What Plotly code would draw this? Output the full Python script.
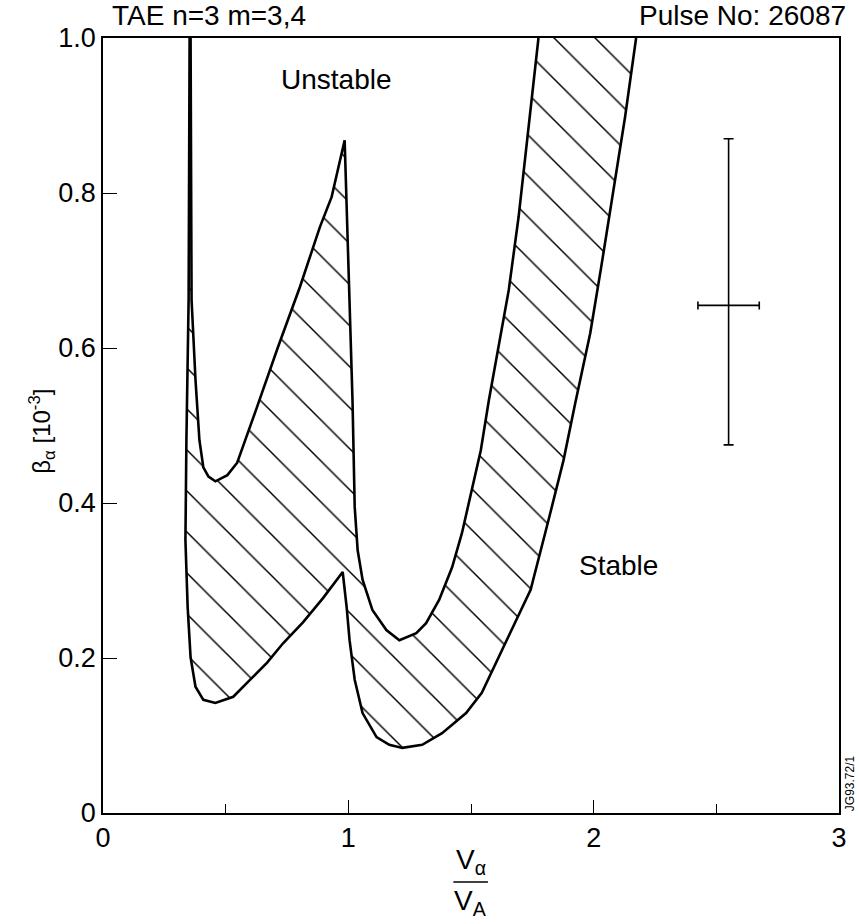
import plotly.graph_objects as go

# ---- data ----
upper_x = [0.357, 0.361, 0.377, 0.393, 0.409, 0.430, 0.458, 0.507, 0.547, 0.580, 0.628, 0.713,
           0.803, 0.884, 0.932, 0.985, 0.993, 1.005, 1.017, 1.026, 1.038, 1.058, 1.098, 1.155,
           1.208, 1.277, 1.317, 1.370, 1.423, 1.463, 1.504, 1.540, 1.573, 1.621, 1.654, 1.694,
           1.727, 1.775]
upper_y = [1.000, 0.662, 0.559, 0.481, 0.446, 0.434, 0.428, 0.436, 0.452, 0.481, 0.524, 0.601,
           0.679, 0.756, 0.795, 0.868, 0.791, 0.662, 0.533, 0.395, 0.339, 0.301, 0.262, 0.236,
           0.223, 0.232, 0.245, 0.275, 0.317, 0.361, 0.417, 0.468, 0.533, 0.619, 0.675, 0.769,
           0.865, 1.000]

lower_x = [0.353, 0.349, 0.340, 0.336, 0.345, 0.357, 0.377, 0.409, 0.458, 0.531, 0.600, 0.669,
           0.734, 0.815, 0.896, 0.977, 0.993, 1.005, 1.026, 1.058, 1.115, 1.167, 1.220, 1.301,
           1.382, 1.480, 1.544, 1.613, 1.743, 1.816, 1.877, 1.925, 1.986, 2.031, 2.079, 2.128,
           2.173]
lower_y = [1.000, 0.662, 0.481, 0.352, 0.266, 0.201, 0.163, 0.146, 0.142, 0.150, 0.172, 0.194,
           0.219, 0.246, 0.277, 0.311, 0.266, 0.223, 0.172, 0.129, 0.098, 0.088, 0.084, 0.088,
           0.103, 0.129, 0.155, 0.201, 0.288, 0.378, 0.455, 0.529, 0.619, 0.705, 0.800, 0.898,
           1.000]

point_x = [2.55]
point_y = [0.655]
point_x_err = [0.125]
point_y_err_plus = [0.215]
point_y_err_minus = [0.18]

x_tick_vals = [0, 1, 2, 3]
x_tick_text = ["0", "1", "2", "3"]
x_minor_vals = [0.5, 1.5, 2.5]
y_tick_vals = [0, 0.2, 0.4, 0.6, 0.8, 1.0]
y_tick_text = ["0", "0.2", "0.4", "0.6", "0.8", "1.0"]

FONT = "Liberation Sans, Arial, Helvetica, sans-serif"

fig = go.Figure()

# hatched region between the two thresholds
fig.add_trace(go.Scatter(
    x=upper_x + lower_x[::-1],
    y=upper_y + lower_y[::-1],
    mode="lines", fill="toself",
    line=dict(width=0, color="rgba(0,0,0,0)"),
    fillcolor="white",
    fillpattern=dict(shape="\\", size=29, solidity=0.05, fgcolor="black", bgcolor="white",
                     fillmode="replace"),
    hoverinfo="skip", showlegend=False))

fig.add_trace(go.Scatter(x=upper_x, y=upper_y, mode="lines",
                         line=dict(color="black", width=2.6), showlegend=False))
fig.add_trace(go.Scatter(x=lower_x, y=lower_y, mode="lines",
                         line=dict(color="black", width=2.6), showlegend=False))

# error bar
fig.add_trace(go.Scatter(
    x=point_x, y=point_y, mode="markers",
    marker=dict(size=1, color="black"),
    error_x=dict(type="data", array=point_x_err, symmetric=True, color="black",
                 thickness=1.6, width=4),
    error_y=dict(type="data", array=point_y_err_plus, arrayminus=point_y_err_minus,
                 symmetric=False, color="black", thickness=1.6, width=5),
    showlegend=False))

fig.update_layout(
    width=859, height=924,
    margin=dict(l=103, r=16, t=38, b=111),
    paper_bgcolor="white", plot_bgcolor="white",
    font=dict(family=FONT, color="black", size=27),
    showlegend=False,
)

fig.update_xaxes(
    range=[0, 3], tickvals=x_tick_vals, ticktext=x_tick_text,
    showgrid=False, zeroline=False,
    showline=True, linecolor="black", linewidth=1.6, mirror=True,
    ticks="inside", ticklen=13, tickwidth=1.4, tickcolor="black",
    minor=dict(tickvals=x_minor_vals, ticks="inside", ticklen=9, tickwidth=1.3,
               tickcolor="black", showgrid=False),
    tickfont=dict(size=27, family=FONT),
)
fig.update_yaxes(
    range=[0, 1], tickvals=y_tick_vals, ticktext=y_tick_text,
    showgrid=False, zeroline=False,
    showline=True, linecolor="black", linewidth=1.6, mirror=True,
    ticks="inside", ticklen=14, tickwidth=1.4, tickcolor="black",
    tickfont=dict(size=27, family=FONT),
)

ann_font = dict(family=FONT, size=28, color="black")
fig.add_annotation(x=0.0095, y=1.0, xref="paper", yref="paper", xanchor="left", yanchor="bottom",
                   text="TAE n=3 m=3,4", showarrow=False, font=ann_font, yshift=5)
fig.add_annotation(x=1.012, y=1.0, xref="paper", yref="paper", xanchor="right", yanchor="bottom",
                   text="Pulse No: 26087", showarrow=False, font=ann_font, yshift=5)
fig.add_annotation(x=0.953, y=0.946, xref="x", yref="y", xanchor="center", yanchor="middle",
                   text="Unstable", showarrow=False, font=ann_font)
fig.add_annotation(x=2.1, y=0.32, xref="x", yref="y", xanchor="center", yanchor="middle",
                   text="Stable", showarrow=False, font=ann_font)

# y-axis title
fig.add_annotation(x=-0.109, y=0.493, xref="paper", yref="paper", xanchor="left",
                   yanchor="middle",
                   text="β<sub>α</sub> [10<sup>-3</sup>]", textangle=-90, showarrow=False,
                   font=dict(family=FONT, size=24, color="black"))
# x-axis title as a fraction
fig.add_annotation(x=0.4995, y=-0.088, xref="paper", yref="paper", xanchor="center",
                   yanchor="bottom", text="V<sub>α</sub>", showarrow=False, font=ann_font)
fig.add_annotation(x=0.4995, y=-0.141, xref="paper", yref="paper", xanchor="center",
                   yanchor="bottom", text="V<sub>A</sub>", showarrow=False, font=ann_font)
fig.add_shape(type="line", xref="paper", yref="paper", x0=0.476, x1=0.523,
              y0=-0.089, y1=-0.089, line=dict(color="black", width=1.5))

fig.add_annotation(x=1.003, y=0.0, xref="paper", yref="paper", xanchor="left",
                   yanchor="bottom", text="JG93.72/1",
                   textangle=-90, showarrow=False,
                   font=dict(family=FONT, size=12, color="black"))

fig.write_html("out.html", config={"displayModeBar": False},
               post_script="document.body.style.margin='0';")
